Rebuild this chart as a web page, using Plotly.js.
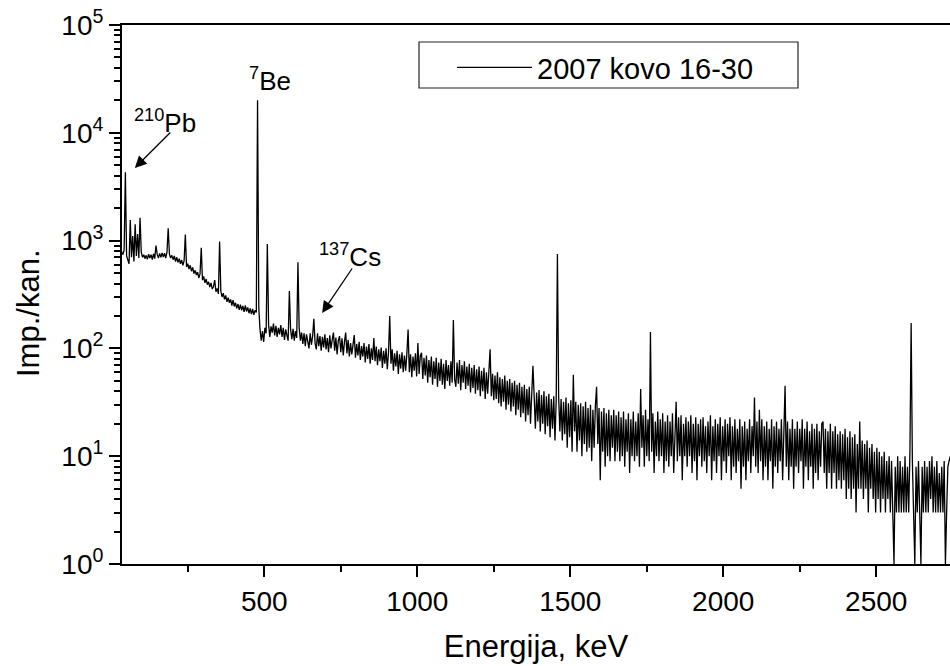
<!DOCTYPE html>
<html>
<head>
<meta charset="utf-8">
<script src="https://cdn.plot.ly/plotly-3.0.1.min.js"></script>
<style>
html,body{margin:0;padding:0;background:#fff;}
#chart{width:950px;height:666px;}
</style>
</head>
<body>
<div id="chart"></div>
<script>
// ---- data ----
const seriesName = '2007 kovo 16-30';
const energyStart = 34;   // keV of first point
const energyStep = 4;     // keV between points

// counts per channel, 34 .. 430 keV
const counts_034_430 = [
790,740,820,4300,720,650,610,1550,700,1100,
640,1420,720,1150,690,1630,780,700,740,680,
730,670,750,690,740,665,755,680,900,745,
690,760,700,770,705,765,690,780,1300,750,
690,730,665,720,640,700,630,680,610,660,
590,650,1140,570,610,545,590,520,565,495,
530,480,510,450,490,860,430,465,405,440,
390,415,370,405,355,375,430,335,360,320,
980,340,300,325,285,310,270,295,265,285,
250,280,245,265,235,258,228,255,225,248];
// 434 .. 830 keV
const counts_434_830 = [
218,250,220,240,212,235,208,232,205,226,
215,20000,240,150,118,145,115,155,138,930,
168,128,160,140,170,132,162,128,155,135,
165,128,155,120,150,132,118,340,150,122,
152,118,145,125,630,155,118,140,110,138,
105,135,115,100,138,108,130,188,112,98,
138,105,130,95,128,102,135,98,125,92,
132,100,120,140,95,126,88,118,130,92,
124,86,115,140,90,120,84,112,88,118,
133,82,110,86,115,78,105,84,112,74];
// 834 .. 1230 keV
const counts_834_1230 = [
104,80,110,72,100,78,125,76,104,70,
98,76,102,66,95,72,100,64,92,200,
72,98,62,90,68,95,58,88,65,92,
60,86,62,90,150,60,88,54,84,62,
90,55,112,58,86,91,52,82,56,86,
48,78,54,84,46,76,52,82,44,74,
50,80,46,72,42,78,50,70,45,76,
48,183,52,44,74,47,78,41,70,48,
76,42,68,45,72,39,66,43,70,38,
64,41,68,36,62,40,66,34,60,38];
// 1234 .. 1630 keV
const counts_1234_1630 = [
62,98,36,58,33,56,34,60,31,54,
29,52,32,56,27,50,30,52,26,48,
29,50,24,46,27,48,23,44,25,46,
21,42,24,44,20,40,69,36,18,39,
21,41,17,37,20,40,16,36,19,38,
15,34,18,36,14,33,750,36,17,34,
14,32,16,35,12,31,15,33,11,57,
17,32,11,30,14,31,10,29,13,32,
11,28,12,30,9,27,12,29,44,13,
28,6,26,11,28,8,25,10,27,9];
// 1634 .. 2030 keV
const counts_1634_2030 = [
24,12,27,9,24,11,26,9,23,10,
26,8,22,11,25,7,22,10,26,9,
21,10,25,8,42,12,24,8,27,10,
22,9,142,11,25,7,21,10,26,9,
22,10,25,7,21,9,24,8,21,10,
25,7,20,32,9,23,10,24,6,20,
10,23,8,21,10,24,7,20,9,23,
6,20,10,22,8,23,9,19,7,21,
10,24,6,19,9,22,7,20,10,23,
6,19,9,22,7,20,10,23,6,19];
// 2034 .. 2430 keV
const counts_2034_2430 = [
8,22,7,18,9,22,5,19,8,21,
6,18,9,22,7,19,10,35,8,21,
7,27,9,22,6,19,8,21,6,18,
9,22,5,19,8,21,7,18,9,22,
6,19,45,8,21,6,18,8,22,5,
18,8,21,7,18,9,22,5,18,8,
21,6,17,8,20,5,18,7,20,6,
17,8,20,21,7,18,5,17,7,20,
5,17,7,19,5,16,6,17,5,16,
6,18,4,15,5,17,4,15,5,16];
// 2434 .. 2742 keV
const counts_2434_2742 = [
3,13,5,21,5,14,4,13,5,14,
3,12,5,13,4,11,3,12,4,11,
3,10,4,11,3,9,4,10,3,9,
3,1,8,3,10,3,9,3,8,3,
10,3,8,3,11,172,9,3,1,8,
3,9,3,1,8,3,9,3,8,3,
9,4,10,3,8,3,9,3,7,3,
8,3,9,1,3,8,9,10];

// axis ticks
const yTickVals = [1, 10, 100, 1000, 10000, 100000];
const yTickText = ['10<sup>0</sup>','10<sup>1</sup>','10<sup>2</sup>','10<sup>3</sup>','10<sup>4</sup>','10<sup>5</sup>'];

// peak labels (energy keV, counts)
const labelTexts = ['<sup>210</sup>Pb', '<sup>7</sup>Be', '<sup>137</sup>Cs'];
const labelEnergy = [177, 518, 781];
const labelCounts = [12860, 30900, 735];
// arrow heads (energy keV, counts)
const arrowEnergy = [77, 689];
const arrowCounts = [4720, 213];

// ---- chart ----
const counts = [].concat(counts_034_430, counts_434_830, counts_834_1230,
  counts_1234_1630, counts_1634_2030, counts_2034_2430, counts_2434_2742);
const FONT = 'Liberation Sans, Arial, Helvetica, sans-serif';

const trace = {type: 'scatter', mode: 'lines', name: seriesName,
  x0: energyStart, dx: energyStep, y: counts, line: {color: '#000', width: 1.3}};

const annotations = [];
for (let i = 0; i < labelTexts.length; i++) {
  annotations.push({x: labelEnergy[i], y: Math.log10(labelCounts[i]), xref: 'x', yref: 'y',
    text: labelTexts[i], showarrow: false, xanchor: 'center', yanchor: 'middle',
    font: {family: FONT, size: 26, color: '#000'}});
}
const arrowOffsets = [[37, -37], [31, -46]];
for (let i = 0; i < arrowEnergy.length; i++) {
  annotations.push({x: arrowEnergy[i], y: Math.log10(arrowCounts[i]), xref: 'x', yref: 'y',
    text: '', showarrow: true, ax: arrowOffsets[i][0], ay: arrowOffsets[i][1],
    axref: 'pixel', ayref: 'pixel', arrowhead: 2, arrowsize: 1.8, arrowwidth: 1.3,
    arrowcolor: '#000', standoff: 0, startstandoff: 0});
}
// y axis title, placed where the reference has it
annotations.push({xref: 'paper', yref: 'paper', x: -0.1123, y: 0.4657, textangle: -90,
  text: 'Imp./kan.', showarrow: false, xanchor: 'center', yanchor: 'middle',
  font: {family: FONT, size: 31, color: '#000'}});

const layout = {
  width: 950, height: 666,
  margin: {l: 122, r: 0, t: 25, b: 102, pad: 0},
  paper_bgcolor: '#fff', plot_bgcolor: '#fff',
  font: {family: FONT, color: '#000', size: 28},
  showlegend: true,
  legend: {x: 0.3986, y: 0.9685, xanchor: 'left', yanchor: 'top',
    bgcolor: 'rgba(0,0,0,0)', borderwidth: 0, itemwidth: 75,
    font: {family: FONT, size: 29, color: '#000'}},
  xaxis: {
    range: [35, 2741], showline: true, linecolor: '#000', linewidth: 2, mirror: true,
    showgrid: false, zeroline: false,
    tickmode: 'linear', tick0: 0, dtick: 500,
    ticks: 'outside', ticklen: 11, tickwidth: 2, tickcolor: '#000',
    minor: {dtick: 250, tick0: 0, ticks: 'outside', ticklen: 6, tickwidth: 2, tickcolor: '#000'},
    title: {text: 'Energija, keV', font: {family: FONT, size: 31, color: '#000'}, standoff: 20},
    automargin: false
  },
  yaxis: {
    type: 'log', range: [0, 5], showline: true, linecolor: '#000', linewidth: 2, mirror: false,
    showgrid: false, zeroline: false,
    tickmode: 'array', tickvals: yTickVals, ticktext: yTickText,
    ticks: 'outside', ticklen: 11, tickwidth: 2, tickcolor: '#000',
    minor: {dtick: 'D1', ticks: 'outside', ticklen: 6, tickwidth: 2, tickcolor: '#000'},
    automargin: false
  },
  shapes: [{type: 'rect', xref: 'paper', yref: 'paper',
    x0: 0.3587, x1: 0.8164, y0: 0.8831, y1: 0.9685,
    line: {color: '#222', width: 1.2}, fillcolor: 'rgba(0,0,0,0)'}],
  annotations: annotations
};

Plotly.newPlot('chart', [trace], layout, {staticPlot: true, displayModeBar: false});
</script>
</body>
</html>
